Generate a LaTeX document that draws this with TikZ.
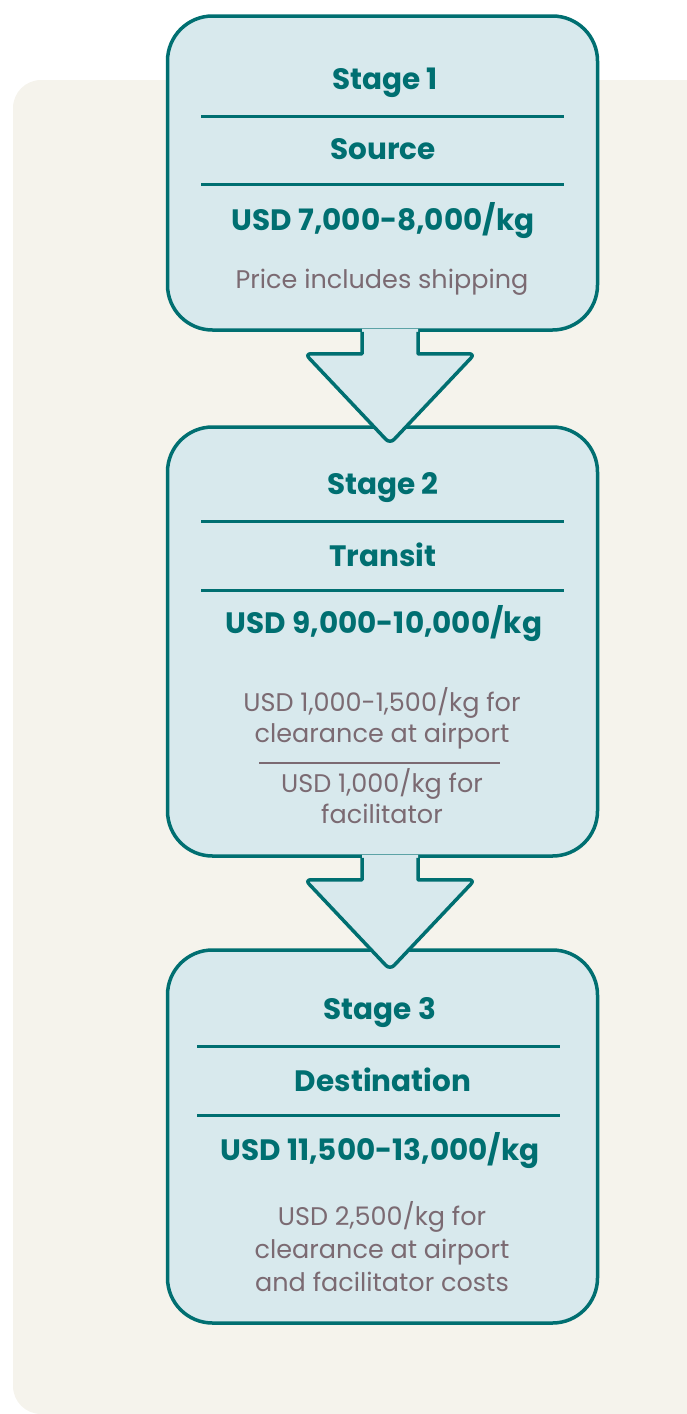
\documentclass[tikz,border=0pt]{standalone}
\usepackage{fontspec}
\setmainfont{Poppins}
\usetikzlibrary{calc}
\definecolor{bgbeige}{HTML}{F5F3EC}
\definecolor{boxfill}{HTML}{D8E9ED}
\definecolor{teal}{HTML}{006F71}
\definecolor{mauve}{HTML}{7B6A72}
\tikzset{
  stagebox/.style={draw=teal, line width=3.5pt, fill=boxfill, rounded corners=45pt, inner sep=0pt},
  headtxt/.style={text=teal, font=\fontsize{29.5}{34}\selectfont\bfseries, inner sep=0pt, anchor=base},
  notetxt/.style={text=mauve, font=\fontsize{25.5}{32}\selectfont, inner sep=0pt, anchor=base},
  sepline/.style={draw=teal, line width=3pt},
  thinline/.style={draw=mauve, line width=1.5pt},
  arrowfill/.style={fill=boxfill},
  arrowline/.style={draw=teal, line width=3.5pt, line join=round},
}
\begin{document}
\begin{tikzpicture}[x=1pt,y=-1pt]
\useasboundingbox (0,0) rectangle (686,1414);
\fill[bgbeige, rounded corners=28pt] (13,80) rectangle (720,1414);

% boxes
\node[stagebox, minimum width=430pt, minimum height=314pt] (box1) at (382.5,173) {};
\node[stagebox, minimum width=430pt, minimum height=429pt] (box2) at (382.5,641.5) {};
\node[stagebox, minimum width=430pt, minimum height=373pt] (box3) at (382.5,1136.5) {};

% arrows
\foreach \b/\n in {box1/a1, box2/a2}{
  \coordinate (\n) at ($(\b.south)+(7.5,0)$);
  \coordinate (\n-s0l) at ($(\n)+(-28,-3)$);
  \coordinate (\n-s0r) at ($(\n)+(28,-3)$);
  \coordinate (\n-sl) at ($(\n)+(-28,0)$);
  \coordinate (\n-sr) at ($(\n)+(28,0)$);
  \coordinate (\n-kl) at ($(\n)+(-28,22)$);
  \coordinate (\n-kr) at ($(\n)+(28,22)$);
  \coordinate (\n-hl) at ($(\n)+(-85,22)$);
  \coordinate (\n-hr) at ($(\n)+(85,22)$);
  \coordinate (\n-tip) at ($(\n)+(0,112)$);
  \fill[arrowfill] (\n-s0l) -- (\n-kl) -- (\n-hl) -- (\n-tip) -- (\n-hr) -- (\n-kr) -- (\n-s0r) -- cycle;
  \draw[arrowline] (\n-sl) -- (\n-kl) [rounded corners=6pt] -- (\n-hl) -- (\n-tip) -- (\n-hr) [sharp corners] -- (\n-kr) -- (\n-sr);
}

% box 1
\node[headtxt] (t1) at (385,89) {Stage 1};
\draw[sepline] (201,116) -- (564,116);
\node[headtxt] (n1) at (383,159) {Source};
\draw[sepline] (201,184) -- (564,184);
\node[headtxt] (p1) at (383,230) {USD 7,000-8,000/kg};
\node[notetxt] (c1) at (382,288) {Price includes shipping};

% box 2
\node[headtxt] (t2) at (383,494) {Stage 2};
\draw[sepline] (201,521) -- (564,521);
\node[headtxt] (n2) at (383,566) {Transit};
\draw[sepline] (201,590) -- (564,590);
\node[headtxt] (p2) at (384,633) {USD 9,000-10,000/kg};
\node[notetxt] (c2a) at (382,711) {USD 1,000-1,500/kg for};
\node[notetxt] (c2b) at (382,742) {clearance at airport};
\draw[thinline] (259,763) -- (500,763);
\node[notetxt] (c2c) at (382,792) {USD 1,000/kg for};
\node[notetxt] (c2d) at (382,823) {facilitator};

% box 3
\node[headtxt] (t3) at (380,1019) {Stage 3};
\draw[sepline] (197,1046) -- (560,1046);
\node[headtxt] (n3) at (383,1091) {Destination};
\draw[sepline] (197,1115) -- (560,1115);
\node[headtxt] (p3) at (380,1160) {USD 11,500-13,000/kg};
\node[notetxt] (c3a) at (382,1225) {USD 2,500/kg for};
\node[notetxt] (c3b) at (382,1258) {clearance at airport};
\node[notetxt] (c3c) at (382,1291) {and facilitator costs};
\end{tikzpicture}
\end{document}
